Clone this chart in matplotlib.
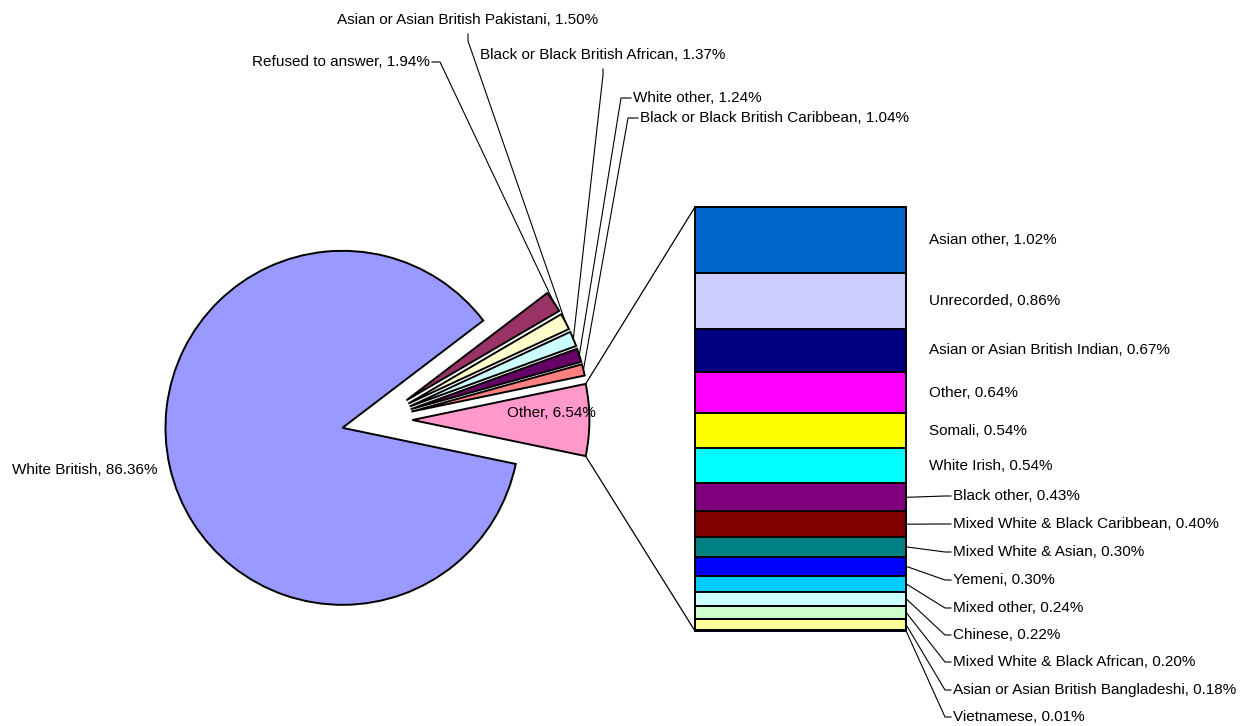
import matplotlib
matplotlib.use('Agg')
import matplotlib.pyplot as plt
from matplotlib.lines import Line2D
from matplotlib.patches import ConnectionPatch
import numpy as np

plt.rcParams['font.family'] = ['Liberation Sans', 'DejaVu Sans']

# ---------------- data ----------------
pie_labels = ['Other', 'Black or Black British Caribbean', 'White other',
              'Black or Black British African', 'Asian or Asian British Pakistani',
              'Refused to answer', 'White British']
pie_values = [6.54, 1.04, 1.24, 1.37, 1.50, 1.94, 86.36]
pie_colors = ['#FF99CC', '#FF8080', '#660066', '#CCFFFF', '#FFFFCC', '#993366', '#9999FF']

bar_labels = ['Asian other', 'Unrecorded', 'Asian or Asian British Indian', 'Other',
              'Somali', 'White Irish', 'Black other', 'Mixed White & Black Caribbean',
              'Mixed White & Asian', 'Yemeni', 'Mixed other', 'Chinese',
              'Mixed White & Black African', 'Asian or Asian British Bangladeshi',
              'Vietnamese']
bar_values = [1.02, 0.86, 0.67, 0.64, 0.54, 0.54, 0.43, 0.40, 0.30, 0.30, 0.24,
              0.22, 0.20, 0.18, 0.01]
bar_colors = ['#0066CC', '#CCCCFF', '#000080', '#FF00FF', '#FFFF00', '#00FFFF',
              '#800080', '#800000', '#008080', '#0000FF', '#00CCFF', '#CCFFFF',
              '#CCFFCC', '#FFFF99', '#99CCFF']

# ---------------- layout ----------------
W, H = 1243, 726
fig = plt.figure(figsize=(W / 100, H / 100), dpi=100)
FS = 11
LW = 1.4


def fig_frac(x, y):
    """pixel coords measured from top-left -> figure fraction"""
    return (x / W, 1 - y / H)


def disp_to_frac(pt):
    return fig.transFigure.inverted().transform(pt)


R = 177
cx, cy = 377, 420
half = 1.5
ax = fig.add_axes([(cx - half * R) / W, 1 - (cy + half * R) / H,
                   2 * half * R / W, 2 * half * R / H])
total_pie = sum(pie_values)
start = -pie_values[0] / total_pie * 360 / 2
wedges, _ = ax.pie(pie_values, colors=pie_colors, startangle=start,
                   explode=[0.2] * len(pie_values), radius=1,
                   wedgeprops=dict(edgecolor='black', linewidth=LW))
ax.set_xlim(-half, half)
ax.set_ylim(-half, half)
ax.axis('off')

# bar
bx0, bx1, by0, by1 = 695, 906, 207, 631
bax = fig.add_axes([bx0 / W, 1 - by1 / H, (bx1 - bx0) / W, (by1 - by0) / H])
total_bar = sum(bar_values)
tops = total_bar - np.concatenate([[0], np.cumsum(bar_values)[:-1]])
bottoms = tops - np.array(bar_values)
bars = bax.bar([0.5] * len(bar_values), bar_values, bottom=bottoms, width=1,
               color=bar_colors, edgecolor='black', linewidth=LW)
for b in bars:
    b.set_clip_on(False)
bax.set_xlim(0, 1)
bax.set_ylim(0, total_bar)
bax.axis('off')

# connector lines from "Other" wedge to bar
ow = wedges[0]
for ang, yb in ((ow.theta2, total_bar), (ow.theta1, 0)):
    pa = (ow.center[0] + ow.r * np.cos(np.radians(ang)),
          ow.center[1] + ow.r * np.sin(np.radians(ang)))
    con = ConnectionPatch(xyA=pa, coordsA=ax.transData, xyB=(0, yb),
                          coordsB=bax.transData, color='black', lw=0.9)
    fig.add_artist(con)


def wedge_mid_frac(w, rr=1.0):
    m = np.radians((w.theta1 + w.theta2) / 2)
    p = (w.center[0] + w.r * rr * np.cos(m), w.center[1] + w.r * rr * np.sin(m))
    return disp_to_frac(ax.transData.transform(p))


def leader(points_frac):
    xs = [p[0] for p in points_frac]
    ys = [p[1] for p in points_frac]
    fig.add_artist(Line2D(xs, ys, transform=fig.transFigure, color='black', lw=0.8))


# pie labels
lab = lambda i: f"{pie_labels[i]}, {pie_values[i]:.2f}%"
# White British
fig.text(*fig_frac(12, 470), lab(6), fontsize=FS, ha='left', va='center')
# Other (inside)
fig.text(*fig_frac(551, 413), lab(0), fontsize=FS, ha='center', va='center')

# Refused to answer
fig.text(*fig_frac(430, 62), lab(5), fontsize=FS, ha='right', va='center')
leader([fig_frac(432, 62), fig_frac(440, 62), wedge_mid_frac(wedges[5])])
# Pakistani
fig.text(*fig_frac(468, 20), lab(4), fontsize=FS, ha='center', va='center')
leader([fig_frac(468, 34), fig_frac(468, 41), wedge_mid_frac(wedges[4])])
# Black African
fig.text(*fig_frac(603, 55), lab(3), fontsize=FS, ha='center', va='center')
leader([fig_frac(603, 69), fig_frac(603, 75), wedge_mid_frac(wedges[3])])
# White other
fig.text(*fig_frac(633, 98), lab(2), fontsize=FS, ha='left', va='center')
leader([fig_frac(631, 98), fig_frac(621, 98), wedge_mid_frac(wedges[2])])
# Black Caribbean
fig.text(*fig_frac(640, 118), lab(1), fontsize=FS, ha='left', va='center')
leader([fig_frac(638, 118), fig_frac(628, 118), wedge_mid_frac(wedges[1])])

# bar labels
blab = lambda i: f"{bar_labels[i]}, {bar_values[i]:.2f}%"
n_inside = 6
for i in range(n_inside):
    yc = (tops[i] + bottoms[i]) / 2
    bax.annotate(blab(i), xy=(1, yc), xycoords='data', xytext=(23, 0),
                 textcoords='offset pixels', fontsize=FS, ha='left', va='center')

label_ys = [496, 524, 552, 580, 608, 635, 662, 690, 717]
for k, i in enumerate(range(n_inside, len(bar_values))):
    yc = (tops[i] + bottoms[i]) / 2
    p0 = disp_to_frac(bax.transData.transform((1, yc)))
    ly = label_ys[k]
    leader([p0, fig_frac(945, ly), fig_frac(951, ly)])
    fig.text(*fig_frac(953, ly), blab(i), fontsize=FS, ha='left', va='center')

fig.savefig('out.png', dpi=100, facecolor='white')
